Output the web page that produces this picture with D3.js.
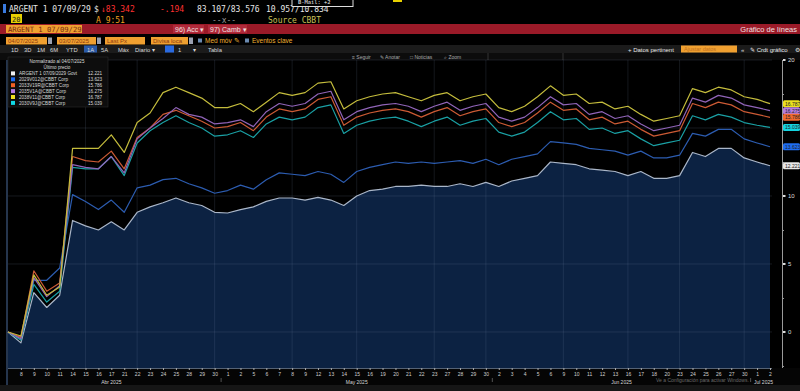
<!DOCTYPE html>
<html><head><meta charset="utf-8">
<script src="https://cdn.jsdelivr.net/npm/d3@7"></script>
<style>html,body{margin:0;padding:0;background:#000;}svg{display:block;}</style>
</head><body>
<svg id="c" width="800" height="391"></svg>
<script>
const dates = ["2025-04-07","2025-04-08","2025-04-09","2025-04-10","2025-04-11","2025-04-14","2025-04-15","2025-04-16","2025-04-17","2025-04-21","2025-04-22","2025-04-23","2025-04-24","2025-04-25","2025-04-28","2025-04-29","2025-04-30",
"2025-05-01","2025-05-02","2025-05-05","2025-05-06","2025-05-07","2025-05-08","2025-05-09","2025-05-12","2025-05-13","2025-05-14","2025-05-15","2025-05-16","2025-05-19","2025-05-20","2025-05-21","2025-05-22","2025-05-23","2025-05-27","2025-05-28","2025-05-29","2025-05-30",
"2025-06-02","2025-06-03","2025-06-04","2025-06-05","2025-06-06","2025-06-09","2025-06-10","2025-06-11","2025-06-12","2025-06-13","2025-06-16","2025-06-17","2025-06-18","2025-06-20","2025-06-23","2025-06-24","2025-06-25","2025-06-26","2025-06-27","2025-06-30",
"2025-07-01","2025-07-02"];

const argent29 = [0,-0.8,2.9,1.8,2.7,8.2,7.8,7.5,8.1,7.5,8.8,9.2,9.5,9.85,9.5,9.3,8.8,8.75,9.0,9.2,9.6,9.85,9.85,
9.7,9.9,9.7,9.3,10.0,10.4,10.5,10.7,10.7,10.8,10.7,10.7,10.9,10.7,11.0,10.7,11.1,11.3,11.5,12.5,12.4,12.3,12.0,11.9,11.8,11.5,11.8,11.3,11.3,11.5,13.2,12.9,13.5,13.5,12.8,12.5,12.221];
const serBlue = [0,-0.5,3.8,3.8,4.7,10.1,9.6,9.0,9.7,8.8,10.6,10.8,11.2,11.3,10.9,10.6,10.2,10.4,10.8,10.5,11.2,11.7,11.6,
11.5,11.8,11.6,11.0,11.8,12.1,12.3,12.5,12.4,12.5,12.4,12.5,12.6,12.4,12.7,12.3,12.7,12.9,13.1,14.0,13.9,13.8,13.5,13.4,13.3,13.0,13.3,12.8,12.8,13.0,14.6,14.4,14.9,14.9,14.2,13.9,13.623];
const serOrange = [0,-0.4,4.5,3.0,3.6,12.9,12.6,12.5,13.3,12.0,14.3,15.0,16.0,16.3,15.9,15.5,15.0,15.1,15.4,14.8,15.8,16.4,16.2,
16.4,17.1,17.3,15.2,15.8,16.1,16.3,16.4,16.2,15.8,16.2,16.5,15.9,16.2,16.4,15.4,15.1,15.4,16.1,16.9,16.3,16.4,15.6,15.8,15.3,15.5,14.9,14.4,14.6,14.8,16.8,16.5,16.9,16.7,16.2,16.0,15.786];
const serPurple = [0,-0.5,4.0,2.6,3.4,12.3,12.1,12.0,12.9,11.7,14.2,15.0,15.7,16.5,16.0,15.8,15.3,15.4,15.6,15.1,16.2,16.8,16.6,
16.8,17.5,17.7,15.6,16.2,16.5,16.7,16.8,16.6,16.2,16.6,16.9,16.3,16.6,16.8,15.8,15.5,15.8,16.5,17.3,16.7,16.8,16.0,16.2,15.7,15.9,15.3,14.8,15.0,15.2,17.2,16.9,17.4,17.2,16.7,16.5,16.275];
const serYellow = [0,-0.3,4.2,2.7,3.3,13.5,13.5,13.5,14.5,13.2,15.4,16.1,17.6,18.0,17.6,17.2,16.5,16.5,16.8,16.2,16.9,17.6,17.4,
17.6,18.3,18.4,16.4,17.0,17.3,17.5,17.6,17.3,17.0,17.4,17.6,17.0,17.3,17.5,16.5,16.2,16.6,17.3,18.1,17.4,17.5,16.8,16.9,16.4,16.6,16.0,15.5,15.7,15.9,17.9,17.6,18.0,17.8,17.3,17.1,16.787];
const serCyan = [0,-0.6,3.5,2.2,3.0,12.1,12.0,12.0,12.9,11.5,13.9,14.8,15.4,15.9,15.4,15.0,14.4,14.5,14.8,14.3,15.3,15.8,15.6,
15.8,16.5,16.7,14.6,15.2,15.5,15.7,15.8,15.5,15.1,15.5,15.8,15.2,15.5,15.7,14.7,14.4,14.7,15.4,16.2,15.6,15.7,14.9,15.0,14.6,14.8,14.2,13.7,13.9,14.1,15.9,15.6,16.0,15.8,15.4,15.2,15.039];

const legendNames = ["ARGENT 1 07/09/2029 Govt","2029V012@CBBT Corp","2033V19R@CBBT Corp","2035V1A@CBBT Corp","2038V11@CBBT Corp","2030V9J@CBBT Corp"];
const legendValues = ["12.221","13.623","15.786","16.275","16.787","15.039"];
const yTicks = [0,5,10,15,20];
const yLabels = [0,5,10,20];
const gridDates = ["2025-04-15","2025-04-22","2025-04-30","2025-05-08","2025-05-15","2025-05-23","2025-05-30","2025-06-09","2025-06-16","2025-06-23","2025-06-30"];
const months = [{m:"2025-04",label:"Abr 2025"},{m:"2025-05",label:"May 2025"},{m:"2025-06",label:"Jun 2025"},{m:"2025-07",label:"Jul 2025"}];

const svg = d3.select("#c");
const x = d3.scalePoint().domain(dates).range([8,770]);
const y = d3.scaleLinear().domain([-2.65,20]).range([368,60]);

// ---------- header chrome ----------
const mono = "'DejaVu Sans Mono', 'Liberation Mono', monospace";
const sans = "'Liberation Sans', Arial, sans-serif";
svg.append("rect").attr("x",0).attr("y",0).attr("width",800).attr("height",391).attr("fill","#000");
svg.append("rect").attr("x",3).attr("y",4).attr("width",3).attr("height",9).attr("fill","#3a7be0");
const t0 = svg.append("g").attr("font-family",mono).attr("font-size",8);
t0.append("text").attr("x",9).attr("y",12.4).attr("fill","#e6e6e6").text("ARGENT 1 07/09/29");
t0.append("text").attr("x",94).attr("y",12.4).attr("fill","#e6e6e6").text("$");
t0.append("text").attr("x",101).attr("y",12.4).attr("fill","#ff3030").text("\u219383.342");
t0.append("text").attr("x",160).attr("y",12.4).attr("fill","#ff3030").text("-.194");
t0.append("text").attr("x",197).attr("y",12.4).attr("fill","#e6e6e6").text("83.107/83.576");
t0.append("text").attr("x",266).attr("y",12.4).attr("fill","#e6e6e6").text("10.957/10.834");
svg.append("rect").attr("x",292).attr("y",-2).attr("width",61).attr("height",8.5).attr("fill","#000").attr("stroke","#ddd").attr("stroke-width",1);
svg.append("text").attr("x",298).attr("y",4.2).attr("font-family",mono).attr("font-size",5.4).attr("fill","#eee").text("B-Mail: +2");
svg.append("rect").attr("x",393).attr("y",0).attr("width",9).attr("height",2).attr("fill","#e8d000");

svg.append("rect").attr("x",11).attr("y",14).attr("width",11).attr("height",9).attr("fill","#e8d000");
svg.append("text").attr("x",12).attr("y",21.5).attr("font-family",mono).attr("font-size",7).attr("fill","#222").text("20");
t0.append("text").attr("x",96).attr("y",22.5).attr("fill","#f0a020").text("A 9:51");
t0.append("text").attr("x",212).attr("y",22.5).attr("fill","#999").text("--x--");
t0.append("text").attr("x",268).attr("y",22.5).attr("fill","#c8c058").text("Source CBBT");

svg.append("rect").attr("x",0).attr("y",24).attr("width",800).attr("height",10).attr("fill","#9a1a28");
svg.append("rect").attr("x",6).attr("y",25).attr("width",76).attr("height",8).attr("fill","#f0a030");
svg.append("text").attr("x",8).attr("y",32).attr("font-family",mono).attr("font-size",7.2).attr("fill","#7a2a10").text("ARGENT 1 07/09/29");
svg.append("rect").attr("x",173).attr("y",25).attr("width",31).attr("height",8).attr("fill","#b02a3a");
svg.append("rect").attr("x",208).attr("y",25).attr("width",39).attr("height",8).attr("fill","#b02a3a");
const t2 = svg.append("g").attr("font-family",sans).attr("font-size",7).attr("fill","#f0e0e0");
t2.append("text").attr("x",175).attr("y",32).text("96) Acc \u25BE");
t2.append("text").attr("x",210).attr("y",32).text("97) Camb \u25BE");
t2.append("text").attr("x",797).attr("y",32).attr("text-anchor","end").attr("font-size",7.5).text("Gr\u00e1fico de l\u00edneas");

// row 3 inputs
const boxes = [{x:6,w:41,t:"04/07/2025"},{x:57,w:39,t:"03/07/2025"},{x:105,w:40,t:"Last Px"},{x:151,w:37,t:"Divisa loca"}];
boxes.forEach(b=>{
  svg.append("rect").attr("x",b.x).attr("y",37).attr("width",b.w).attr("height",7.5).attr("fill","#f0a030");
  svg.append("text").attr("x",b.x+2).attr("y",43).attr("font-family",sans).attr("font-size",6).attr("fill","#8a3a10").text(b.t);
});
[48,97,189].forEach(xx=>svg.append("rect").attr("x",xx).attr("y",37.5).attr("width",4).attr("height",6.5).attr("fill","#9aa0b0"));
const t3 = svg.append("g").attr("font-family",sans).attr("font-size",6.5);
t3.append("rect").attr("x",198).attr("y",38.5).attr("width",4).attr("height",4).attr("fill","#6a8ab0");
t3.append("text").attr("x",205).attr("y",43).attr("fill","#f0b030").text("Med m\u00f3v \u270E");
t3.append("rect").attr("x",245).attr("y",38.5).attr("width",4).attr("height",4).attr("fill","#6a8ab0");
t3.append("text").attr("x",252).attr("y",43).attr("fill","#f0b030").text("Eventos clave");

// row 4
svg.append("rect").attr("x",0).attr("y",45).attr("width",800).attr("height",8).attr("fill","#1b1b1b");
svg.append("rect").attr("x",84).attr("y",45.5).attr("width",13).attr("height",7).attr("fill","#2a5aa8");
svg.append("rect").attr("x",165).attr("y",45.5).attr("width",9).attr("height",7).attr("fill","#2a6ae0");
const per = [[11,"1D"],[24,"3D"],[37,"1M"],[50,"6M"],[66,"YTD"],[87,"1A"],[101,"5A"],[118,"M\u00e1x"],[135,"Diario \u25BE"],[178,"1"],[193,"\u25BE"],[208,"Tabla"]];
per.forEach(p=>svg.append("text").attr("x",p[0]).attr("y",51.5).attr("font-family",sans).attr("font-size",5.8).attr("fill","#d8d8d8").text(p[1]));
svg.append("text").attr("x",628).attr("y",51.5).attr("font-family",sans).attr("font-size",6).attr("fill","#e8e8e8").text("+ Datos pertinent");
svg.append("rect").attr("x",681).attr("y",45.5).attr("width",56).attr("height",7).attr("fill","#f0a030");
svg.append("text").attr("x",684).attr("y",51).attr("font-family",sans).attr("font-size",5.5).attr("fill","#c07020").text("Ajustar datos");
svg.append("text").attr("x",741).attr("y",51.5).attr("font-family",sans).attr("font-size",6).attr("fill","#ddd").text("\u00AB");
svg.append("text").attr("x",750).attr("y",51.5).attr("font-family",sans).attr("font-size",6).attr("fill","#e8e8e8").text("\u270E Crdt gr\u00e1fico");
svg.append("text").attr("x",795).attr("y",51.5).attr("font-family",sans).attr("font-size",6).attr("fill","#ddd").text("\u2699");

// row 5 toolbar
svg.append("rect").attr("x",0).attr("y",53).attr("width",800).attr("height",7).attr("fill","#0c0c0c");
[["\u2261 Seguir",352],["\u270E Anotar",380],["\u25A1 Noticias",410],["\u2315 Zoom",444]].forEach(p=>
  svg.append("text").attr("x",p[1]).attr("y",58.5).attr("font-family",sans).attr("font-size",5).attr("fill","#aaa").text(p[0]));
[488,563].forEach(xx=>svg.append("line").attr("x1",xx).attr("x2",xx).attr("y1",53).attr("y2",60).attr("stroke","#333"));

// ---------- plot ----------
const plot = svg.append("g");
plot.append("rect").attr("x",8).attr("y",60).attr("width",764).attr("height",308).attr("fill","#000");

const area = d3.area().x((d,i)=>x(dates[i])).y0(y(-2.65)).y1(d=>y(d));
plot.append("path").datum(argent29).attr("d",area).attr("fill","#0c2242");

// grid
plot.selectAll(".hg").data(yTicks).join("line").attr("class","hg")
  .attr("x1",8).attr("x2",772).attr("y1",d=>y(d)).attr("y2",d=>y(d))
  .attr("stroke","#8090b0").attr("stroke-opacity",0.22).attr("stroke-width",0.8);
plot.selectAll(".vg").data(gridDates).join("line").attr("class","vg")
  .attr("x1",d=>x(d)).attr("x2",d=>x(d)).attr("y1",60).attr("y2",368)
  .attr("stroke","#8090b0").attr("stroke-opacity",0.2).attr("stroke-width",0.8);
plot.append("line").attr("x1",x(dates[0])-1).attr("x2",x(dates[0])-1).attr("y1",60).attr("y2",391).attr("stroke","#4a6a9a").attr("stroke-width",1);

const line = d3.line().x((d,i)=>x(dates[i])).y(d=>y(d));
const series = [
  {v:argent29, c:"#aab6c8"},
  {v:serBlue, c:"#2c5cb0"},
  {v:serCyan, c:"#1aa0a4"},
  {v:serOrange, c:"#cc5a34"},
  {v:serPurple, c:"#9064b8"},
  {v:serYellow, c:"#c4bc3c"}
];
series.forEach(s=>plot.append("path").datum(s.v).attr("d",line).attr("fill","none").attr("stroke",s.c).attr("stroke-width",1.2).attr("stroke-linejoin","round"));

// ---------- legend ----------
const lg = svg.append("g").attr("font-family",sans).attr("font-size",4.6);
lg.append("rect").attr("x",8).attr("y",57).attr("width",100).attr("height",50).attr("fill","#0d0d0d").attr("stroke","#2a2a2a").attr("stroke-width",0.6);
lg.append("text").attr("x",57).attr("y",63).attr("text-anchor","middle").attr("fill","#ddd").text("Normalizado al 04/07/2025");
lg.append("text").attr("x",57).attr("y",69).attr("text-anchor","middle").attr("fill","#ddd").text("\u00daltimo precio");
const legColors = ["#f0f0f0","#1e6cf0","#f06024","#b47ce6","#f0e020","#10d8e6"];
legendNames.forEach((n,i)=>{
  const yy = 75 + i*5.9;
  lg.append("rect").attr("x",11).attr("y",yy-3.6).attr("width",4).attr("height",4).attr("fill",legColors[i]);
  lg.append("text").attr("x",19).attr("y",yy).attr("fill","#d8d8d8").text(n);
  lg.append("text").attr("x",88).attr("y",yy).attr("fill","#d8d8d8").text(legendValues[i]);
});

// ---------- right axis ----------
svg.append("rect").attr("x",772).attr("y",60).attr("width",28).attr("height",310).attr("fill","#000");
const ax = svg.append("g").attr("transform","translate(782,0)");
ax.call(d3.axisRight(y).tickValues(d3.range(-2.5,20.1,2.5)).tickSize(2).tickFormat(""));
ax.select(".domain").attr("stroke","#9a9a9a");
ax.selectAll(".tick line").attr("stroke","#9a9a9a");
ax.selectAll(".yl").data(yLabels).join("text").attr("class","yl")
  .attr("x",6).attr("y",d=>y(d)+2).attr("font-family",sans).attr("font-size",6).attr("fill","#ddd").text(d=>d);
ax.selectAll(".yd").data(yLabels).join("rect").attr("class","yd")
  .attr("x",1).attr("y",d=>y(d)-1).attr("width",2.5).attr("height",2).attr("fill","#ddd");

const badges = [
  {v:serYellow[59], c:"#ece020", t:legendValues[4]},
  {v:serPurple[59], c:"#b57de0", t:legendValues[3]},
  {v:serOrange[59], c:"#f06a30", t:legendValues[2]},
  {v:serCyan[59], c:"#14d4e0", t:legendValues[5]},
  {v:serBlue[59], c:"#1e6cf0", t:legendValues[1]},
  {v:argent29[59], c:"#e8e8e8", t:legendValues[0]}
];
badges.forEach(b=>{
  svg.append("rect").attr("x",783).attr("y",y(b.v)-3.5).attr("width",17).attr("height",7).attr("rx",1.5).attr("fill",b.c);
  svg.append("text").attr("x",785).attr("y",y(b.v)+2).attr("font-family",sans).attr("font-size",5).attr("fill","#222").text(b.t);
});

// ---------- x axis ----------
svg.append("rect").attr("x",8).attr("y",368).attr("width",792).attr("height",23).attr("fill","#050505");
svg.append("rect").attr("x",0).attr("y",385).attr("width",800).attr("height",6).attr("fill","#161616");
svg.append("line").attr("x1",8).attr("x2",772).attr("y1",368.5).attr("y2",368.5).attr("stroke","#6a7a90").attr("stroke-width",0.8);
const xg = svg.append("g").attr("transform","translate(0,368)");
xg.call(d3.axisBottom(x).tickValues(dates.slice(1)).tickSize(2).tickFormat(d=>+d.slice(8)));
xg.select(".domain").remove();
xg.selectAll(".tick line").attr("stroke","#aaa");
xg.selectAll(".tick text").attr("font-family",sans).attr("font-size",5).attr("fill","#d0d0d0").attr("dy","0.5em");
months.forEach(m=>{
  const ds = dates.filter(d=>d.startsWith(m.m));
  const cx = (x(ds[0]) + x(ds[ds.length-1]))/2;
  svg.append("text").attr("x",cx).attr("y",384).attr("text-anchor","middle").attr("font-family",sans).attr("font-size",5).attr("fill","#d8d8d8").text(m.label);
});
["2025-05-01","2025-06-02","2025-07-01"].forEach(d=>{
  const xx = x(d) - x.step()/2;
  svg.append("line").attr("x1",xx).attr("x2",xx).attr("y1",378).attr("y2",382).attr("stroke","#888").attr("stroke-width",0.6);
});
svg.append("text").attr("x",656).attr("y",382).attr("font-family",sans).attr("font-size",5).attr("fill","#6a6a6a").text("Ve a Configuraci\u00f3n para activar Windows.");
</script>
</body></html>
